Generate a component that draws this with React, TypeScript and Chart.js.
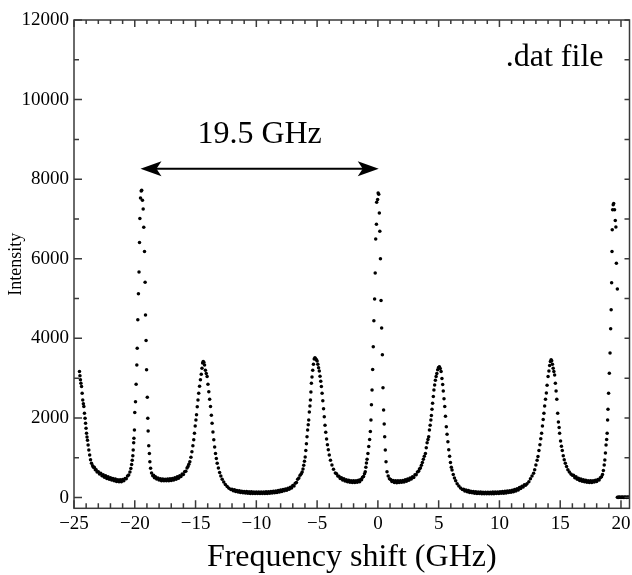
import React, { useEffect, useRef } from "react";
import { Chart, registerables } from "chart.js";

Chart.register(...registerables);

const SERIF = '"Liberation Serif", "Times New Roman", serif';

// Tick values
const X_LABEL_TICKS = [-25, -20, -15, -10, -5, 0, 5, 10, 15, 20];
const X_MINOR_TICKS = [-24, -23, -22, -21, -19, -18, -17, -16, -14, -13, -12, -11, -9, -8, -7, -6, -4, -3, -2, -1, 1, 2, 3, 4, 6, 7, 8, 9, 11, 12, 13, 14, 16, 17, 18, 19];
const Y_LABEL_TICKS = [0, 2000, 4000, 6000, 8000, 10000, 12000];
const Y_MINOR_TICKS = [1000, 3000, 5000, 7000, 9000, 11000];

// Annotation values
const ARROW_FROM = -19.53;
const ARROW_TO = 0.07;
const ARROW_Y = 8265;
const ARROW_LABEL = "19.5 GHz";
const FILE_LABEL = ".dat file";

// Spectrum segments: [frequency shift (GHz), intensity]
const EDGE_M25: [number, number][] = [
  [-24.55, 3165], [-24.51, 3060], [-24.47, 2960], [-24.43, 2870], [-24.38, 2790], [-24.33, 2620], [-24.28, 2450], [-24.23, 2360],
  [-24.19, 2285], [-24.14, 2120], [-24.09, 1990], [-24.05, 1870], [-24.01, 1740], [-23.97, 1615], [-23.93, 1520], [-23.89, 1440],
  [-23.84, 1320], [-23.78, 1195], [-23.71, 1070], [-23.64, 950], [-23.56, 860], [-23.47, 800], [-23.4, 760], [-23.33, 760],
  [-23.25, 700], [-23.18, 700], [-23.1, 640], [-23.0, 650], [-22.9, 590], [-22.8, 610], [-22.7, 545], [-22.6, 570],
  [-22.5, 510], [-22.4, 545], [-22.3, 480], [-22.2, 520], [-22.1, 460], [-22.0, 500], [-21.9, 440], [-21.8, 480],
  [-21.7, 425], [-21.6, 465], [-21.5, 405], [-21.4, 450], [-21.3, 395], [-21.2, 445], [-21.1, 400], [-21.0, 455],
  [-20.9, 420], [-20.8, 480], [-20.7, 470], [-20.6, 540], [-20.5, 565], [-20.4, 640], [-20.32, 730], [-20.26, 830], [-20.21, 940],
];

const PEAK_M19: [number, number][] = [
  [-20.16, 1050], [-20.13, 1195], [-20.09, 1380], [-20.07, 1490], [-20.03, 1700], [-20.0, 2135], [-19.94, 2410], [-19.89, 2850],
  [-19.83, 3330], [-19.8, 3750], [-19.75, 4470], [-19.7, 5120], [-19.65, 5670], [-19.61, 6410], [-19.58, 7015], [-19.53, 7530],
  [-19.47, 7700], [-19.43, 7720], [-19.37, 7470], [-19.31, 7250], [-19.26, 6790], [-19.2, 6180], [-19.15, 5410], [-19.12, 4590],
  [-19.07, 3945], [-19.03, 3210], [-18.97, 2520], [-18.93, 1990], [-18.9, 1670], [-18.85, 1300], [-18.8, 1110], [-18.76, 900],
  [-18.7, 735], [-18.62, 620], [-18.52, 550],
];

const VALLEY_M17: [number, number][] = [
  [-18.45, 560], [-18.38, 500], [-18.3, 520], [-18.2, 465], [-18.1, 490], [-18.0, 440], [-17.9, 470], [-17.8, 425],
  [-17.7, 465], [-17.6, 420], [-17.5, 460], [-17.4, 420], [-17.3, 465], [-17.2, 425], [-17.1, 470], [-17.0, 430],
  [-16.9, 480], [-16.8, 440], [-16.7, 495], [-16.6, 460], [-16.5, 520], [-16.4, 485], [-16.3, 550], [-16.2, 530],
  [-16.1, 590], [-16.0, 580], [-15.9, 650], [-15.8, 660], [-15.7, 740], [-15.62, 780], [-15.55, 840],
];

const PEAK_M14: [number, number][] = [
  [-15.47, 900], [-15.38, 1010], [-15.3, 1150], [-15.22, 1300], [-15.15, 1450], [-15.09, 1615], [-15.03, 1800], [-14.97, 1950],
  [-14.92, 2080], [-14.86, 2280], [-14.8, 2450], [-14.74, 2620], [-14.67, 2800], [-14.6, 2960], [-14.53, 3100], [-14.47, 3250],
  [-14.42, 3380], [-14.37, 3420], [-14.32, 3400], [-14.26, 3330], [-14.19, 3200], [-14.12, 3120], [-14.05, 3040], [-13.98, 2850],
  [-13.91, 2660], [-13.84, 2470], [-13.77, 2285], [-13.7, 2070], [-13.64, 1870], [-13.57, 1650], [-13.5, 1450], [-13.43, 1270],
  [-13.36, 1110], [-13.29, 980], [-13.22, 860], [-13.12, 740], [-13.02, 630], [-12.92, 540], [-12.81, 460], [-12.68, 390],
  [-12.55, 330], [-12.4, 280], [-12.25, 235], [-12.1, 200],
];

const VALLEY_M9: [number, number][] = [
  [-12.0, 210], [-11.9, 170], [-11.8, 195], [-11.7, 150], [-11.6, 180], [-11.5, 140], [-11.4, 170], [-11.3, 130],
  [-11.2, 160], [-11.1, 120], [-11.0, 155], [-10.9, 115], [-10.8, 150], [-10.7, 110], [-10.6, 148], [-10.5, 105],
  [-10.4, 145], [-10.3, 100], [-10.2, 142], [-10.1, 100], [-10.0, 140], [-9.9, 100], [-9.8, 140], [-9.7, 100],
  [-9.6, 140], [-9.5, 100], [-9.4, 142], [-9.3, 102], [-9.2, 145], [-9.1, 105], [-9.0, 148], [-8.9, 110],
  [-8.8, 152], [-8.7, 115], [-8.6, 158], [-8.5, 122], [-8.4, 166], [-8.3, 130], [-8.2, 176], [-8.1, 140],
  [-8.0, 188], [-7.9, 152], [-7.8, 200], [-7.7, 168], [-7.6, 216], [-7.5, 185], [-7.4, 236], [-7.3, 208],
  [-7.2, 262], [-7.1, 240], [-7.0, 300], [-6.9, 290], [-6.8, 360], [-6.7, 380], [-6.6, 460], [-6.5, 490],
  [-6.4, 560], [-6.3, 600],
];

const PEAK_M5: [number, number][] = [
  [-6.23, 640], [-6.16, 720], [-6.1, 810], [-6.04, 910], [-5.98, 1020], [-5.93, 1180], [-5.88, 1350], [-5.83, 1530],
  [-5.78, 1700], [-5.73, 1830], [-5.69, 1950], [-5.64, 2150], [-5.59, 2300], [-5.55, 2450], [-5.51, 2650], [-5.47, 2870],
  [-5.42, 3030], [-5.36, 3200], [-5.3, 3350], [-5.24, 3480], [-5.18, 3510], [-5.12, 3490], [-5.06, 3460], [-5.0, 3430],
  [-4.94, 3350], [-4.88, 3260], [-4.82, 3180], [-4.76, 3050], [-4.7, 2920], [-4.65, 2790], [-4.59, 2620], [-4.53, 2430],
  [-4.47, 2230], [-4.41, 2030], [-4.35, 1820], [-4.29, 1640], [-4.22, 1470], [-4.15, 1330], [-4.08, 1200], [-4.0, 1070],
  [-3.9, 940], [-3.78, 820], [-3.65, 710], [-3.5, 620],
];

const VALLEY_M2: [number, number][] = [
  [-3.4, 600], [-3.3, 540], [-3.2, 535], [-3.1, 480], [-3.0, 495], [-2.9, 440], [-2.8, 470], [-2.7, 415],
  [-2.6, 450], [-2.5, 395], [-2.4, 435], [-2.3, 385], [-2.2, 425], [-2.1, 380], [-2.0, 420], [-1.9, 380],
  [-1.8, 425], [-1.7, 385], [-1.6, 435], [-1.5, 400], [-1.42, 455], [-1.34, 450], [-1.26, 510], [-1.18, 530],
  [-1.1, 600], [-1.04, 650], [-0.99, 760], [-0.94, 870],
];

const PEAK_0: [number, number][] = [
  [-0.89, 960], [-0.82, 1110], [-0.75, 1280], [-0.68, 1460], [-0.62, 1660], [-0.57, 1950], [-0.53, 2330], [-0.48, 2700],
  [-0.43, 3220], [-0.38, 3790], [-0.33, 4440], [-0.27, 4990], [-0.22, 5640], [-0.18, 6500], [-0.12, 6870], [-0.1, 7420],
  [-0.02, 7490], [0.02, 7650], [0.07, 7620], [0.12, 7150], [0.16, 6690], [0.21, 6000], [0.26, 4950], [0.31, 4260],
  [0.37, 3590], [0.42, 2760], [0.47, 2200], [0.52, 1850], [0.56, 1530], [0.61, 1195], [0.67, 900], [0.75, 650],
];

const VALLEY_P2: [number, number][] = [
  [0.85, 540], [0.95, 470], [1.05, 455], [1.15, 405], [1.25, 430], [1.35, 380], [1.45, 420], [1.55, 375],
  [1.65, 420], [1.75, 378], [1.85, 422], [1.95, 382], [2.05, 430], [2.15, 392], [2.25, 445], [2.35, 410],
  [2.45, 465], [2.55, 432], [2.65, 490], [2.75, 465], [2.85, 525], [2.95, 505], [3.05, 570], [3.15, 575],
  [3.25, 640], [3.35, 660], [3.42, 715],
];

const PEAK_P5: [number, number][] = [
  [3.5, 740], [3.58, 810], [3.66, 880], [3.74, 960], [3.82, 1040], [3.91, 1110], [3.98, 1250], [4.05, 1380],
  [4.12, 1460], [4.18, 1530], [4.24, 1700], [4.3, 1820], [4.36, 1950], [4.4, 2060], [4.45, 2220], [4.5, 2370],
  [4.56, 2540], [4.61, 2700], [4.67, 2830], [4.73, 2950], [4.79, 3040], [4.85, 3120], [4.92, 3210], [4.99, 3270],
  [5.06, 3290], [5.13, 3240], [5.2, 3165], [5.27, 2990], [5.33, 2840], [5.38, 2680], [5.44, 2480], [5.5, 2285],
  [5.56, 2040], [5.63, 1780], [5.69, 1590], [5.76, 1400], [5.83, 1200], [5.9, 1040], [5.97, 880], [6.04, 760],
  [6.1, 690], [6.2, 580], [6.3, 490], [6.4, 420], [6.52, 350], [6.66, 290], [6.8, 240], [6.95, 200],
];

const VALLEY_P9: [number, number][] = [
  [7.05, 210], [7.15, 165], [7.25, 190], [7.35, 145], [7.45, 175], [7.55, 130], [7.65, 160], [7.75, 118],
  [7.85, 150], [7.95, 110], [8.05, 145], [8.15, 105], [8.25, 140], [8.35, 100], [8.45, 138], [8.55, 98],
  [8.65, 136], [8.75, 96], [8.85, 135], [8.95, 95], [9.05, 135], [9.15, 95], [9.25, 135], [9.35, 96],
  [9.45, 137], [9.55, 98], [9.65, 140], [9.75, 100], [9.85, 142], [9.95, 103], [10.05, 145], [10.15, 106],
  [10.25, 150], [10.35, 110], [10.45, 156], [10.55, 116], [10.65, 163], [10.75, 124], [10.85, 172], [10.95, 134],
  [11.05, 184], [11.15, 148], [11.25, 200], [11.35, 166], [11.45, 222], [11.55, 190], [11.65, 250], [11.75, 225],
  [11.85, 285], [11.95, 265], [12.05, 320], [12.15, 310], [12.27, 350],
];

const PEAK_P14: [number, number][] = [
  [12.42, 400], [12.55, 470], [12.68, 540], [12.81, 610], [12.9, 700], [13.0, 820], [13.1, 940], [13.17, 1030],
  [13.25, 1180], [13.33, 1330], [13.4, 1480], [13.47, 1615], [13.54, 1800], [13.6, 1960], [13.66, 2120], [13.72, 2300],
  [13.79, 2470], [13.86, 2630], [13.92, 2820], [14.0, 3040], [14.07, 3180], [14.13, 3320], [14.19, 3420], [14.25, 3460],
  [14.3, 3440], [14.36, 3350], [14.42, 3250], [14.48, 3170], [14.54, 3080], [14.6, 2870], [14.66, 2680], [14.72, 2470],
  [14.79, 2120], [14.85, 1900], [14.91, 1760], [14.95, 1615], [15.03, 1420], [15.1, 1290], [15.17, 1180], [15.25, 1050],
  [15.33, 950], [15.42, 860], [15.52, 780], [15.63, 700], [15.75, 640], [15.88, 590], [16.0, 560],
];

const VALLEY_P17: [number, number][] = [
  [16.1, 560], [16.2, 500], [16.3, 520], [16.4, 460], [16.5, 485], [16.6, 430], [16.7, 465], [16.8, 410],
  [16.9, 450], [17.0, 395], [17.1, 435], [17.2, 385], [17.3, 425], [17.4, 380], [17.5, 420], [17.6, 380],
  [17.7, 425], [17.8, 390], [17.9, 435], [18.0, 405], [18.1, 455], [18.2, 440], [18.3, 500], [18.4, 520], [18.48, 580],
];

const PEAK_P19: [number, number][] = [
  [18.55, 680], [18.62, 820], [18.67, 943], [18.72, 1120], [18.77, 1321], [18.82, 1460], [18.86, 1615], [18.9, 1950],
  [18.93, 2220], [18.98, 2620], [19.04, 3125], [19.1, 3630], [19.15, 4240], [19.19, 4720], [19.23, 5400], [19.26, 6180],
  [19.28, 6730], [19.31, 7230], [19.36, 7360], [19.4, 7390], [19.47, 7230], [19.53, 6960], [19.58, 6800], [19.62, 5890],
  [19.7, 5240],
];

const TAIL_ZERO: [number, number][] = [
  [19.7, 10], [19.76, 0], [19.82, 15], [19.88, 5], [19.94, 10], [20.0, 0], [20.06, 15], [20.12, 5],
  [20.18, 10], [20.24, 0], [20.3, 15], [20.36, 5], [20.42, 10], [20.48, 0], [20.54, 15], [20.6, 5], [20.66, 10],
];

const SEGMENTS = [
  EDGE_M25, PEAK_M19, VALLEY_M17, PEAK_M14, VALLEY_M9, PEAK_M5, VALLEY_M2, PEAK_0,
  VALLEY_P2, PEAK_P5, VALLEY_P9, PEAK_P14, VALLEY_P17, PEAK_P19, TAIL_ZERO,
];

const fmt = (v: number) => (v < 0 ? "\u2212" + Math.abs(v) : String(v));

const framePlugin = {
  id: "frameTicksAnnot",
  afterDatasetsDraw(chart: any) {
    const { ctx, chartArea: a, scales } = chart;
    const xs = scales.x;
    const ys = scales.y;
    ctx.save();
    ctx.strokeStyle = "#3a3a3a";
    ctx.lineWidth = 1.5;
    ctx.strokeRect(a.left, a.top, a.right - a.left, a.bottom - a.top);
    ctx.beginPath();
    const xTick = (v: number, lb: number, lt: number) => {
      const p = xs.getPixelForValue(v);
      ctx.moveTo(p, a.bottom);
      ctx.lineTo(p, a.bottom - lb);
      ctx.moveTo(p, a.top);
      ctx.lineTo(p, a.top + lt);
    };
    const yTick = (v: number, ll: number, lr: number) => {
      const p = ys.getPixelForValue(v);
      ctx.moveTo(a.left, p);
      ctx.lineTo(a.left + ll, p);
      ctx.moveTo(a.right, p);
      ctx.lineTo(a.right - lr, p);
    };
    X_LABEL_TICKS.forEach((v) => xTick(v, 8, 7));
    X_MINOR_TICKS.forEach((v) => xTick(v, 5, 4));
    Y_LABEL_TICKS.forEach((v) => yTick(v, 8, 5));
    Y_MINOR_TICKS.forEach((v) => yTick(v, 5, 5));
    ctx.stroke();

    // double arrow
    const x1 = xs.getPixelForValue(ARROW_FROM);
    const x2 = xs.getPixelForValue(ARROW_TO);
    const y = ys.getPixelForValue(ARROW_Y);
    ctx.strokeStyle = "#000";
    ctx.fillStyle = "#000";
    ctx.lineWidth = 2;
    ctx.beginPath();
    ctx.moveTo(x1 + 12, y);
    ctx.lineTo(x2 - 12, y);
    ctx.stroke();
    const head = (tip: number, dir: number) => {
      ctx.beginPath();
      ctx.moveTo(tip, y);
      ctx.lineTo(tip + dir * 21, y - 7.5);
      ctx.lineTo(tip + dir * 16, y);
      ctx.lineTo(tip + dir * 21, y + 7.5);
      ctx.closePath();
      ctx.fill();
    };
    head(x1, 1);
    head(x2, -1);

    ctx.font = `32px ${SERIF}`;
    ctx.textAlign = "center";
    ctx.textBaseline = "alphabetic";
    ctx.fillText(ARROW_LABEL, (x1 + x2) / 2, y - 26);

    ctx.textAlign = "right";
    ctx.fillText(FILE_LABEL, a.right - 26, a.top + 46);
    ctx.restore();
  },
};

export default function App() {
  const ref = useRef<HTMLCanvasElement>(null);

  useEffect(() => {
    const data = SEGMENTS.flat().map(([x, y]) => ({ x, y }));
    const chart = new Chart(ref.current as HTMLCanvasElement, {
      type: "scatter",
      data: {
        datasets: [
          {
            data,
            pointRadius: 1.75,
            pointHoverRadius: 1.75,
            pointBorderWidth: 0,
            pointBackgroundColor: "#000",
            borderColor: "#000",
            showLine: false,
          },
        ],
      },
      options: {
        responsive: false,
        animation: false,
        events: [],
        layout: { padding: { top: 20, right: 2.5, bottom: 0, left: 0 } },
        plugins: { legend: { display: false }, tooltip: { enabled: false } },
        scales: {
          x: {
            type: "linear",
            min: -25,
            max: 20.7,
            grid: { display: false, drawTicks: false },
            border: { display: false },
            afterBuildTicks: (s: any) => {
              s.ticks = X_LABEL_TICKS.map((v) => ({ value: v }));
            },
            afterFit: (s: any) => {
              s.height = 66.7;
              s.paddingLeft = 0;
              s.paddingRight = 0;
            },
            ticks: {
              autoSkip: false,
              maxRotation: 0,
              color: "#000",
              padding: 4.5,
              font: { family: SERIF, size: 19 },
              callback: (v: any) => fmt(Number(v)),
            },
            title: {
              display: true,
              text: "Frequency shift (GHz)",
              color: "#000",
              font: { family: SERIF, size: 32, lineHeight: 1 },
              padding: { top: 0, bottom: 1.5 },
            },
          },
          y: {
            type: "linear",
            min: -270,
            max: 12000,
            grid: { display: false, drawTicks: false },
            border: { display: false },
            afterBuildTicks: (s: any) => {
              s.ticks = Y_LABEL_TICKS.map((v) => ({ value: v }));
            },
            afterFit: (s: any) => {
              s.width = 74;
            },
            ticks: {
              autoSkip: false,
              color: "#000",
              padding: 5,
              font: { family: SERIF, size: 19 },
              callback: (v: any) => fmt(Number(v)),
            },
            title: {
              display: true,
              text: "Intensity",
              color: "#000",
              font: { family: SERIF, size: 18, lineHeight: 1 },
              padding: { top: 7, bottom: 0 },
            },
          },
        },
      },
      plugins: [framePlugin],
    } as any);
    return () => chart.destroy();
  }, []);

  return (
    <div style={{ position: "absolute", left: 0, top: 0, width: 632, height: 575, background: "#fff" }}>
      <canvas ref={ref} width={632} height={575} style={{ display: "block", width: 632, height: 575 }} />
    </div>
  );
}
